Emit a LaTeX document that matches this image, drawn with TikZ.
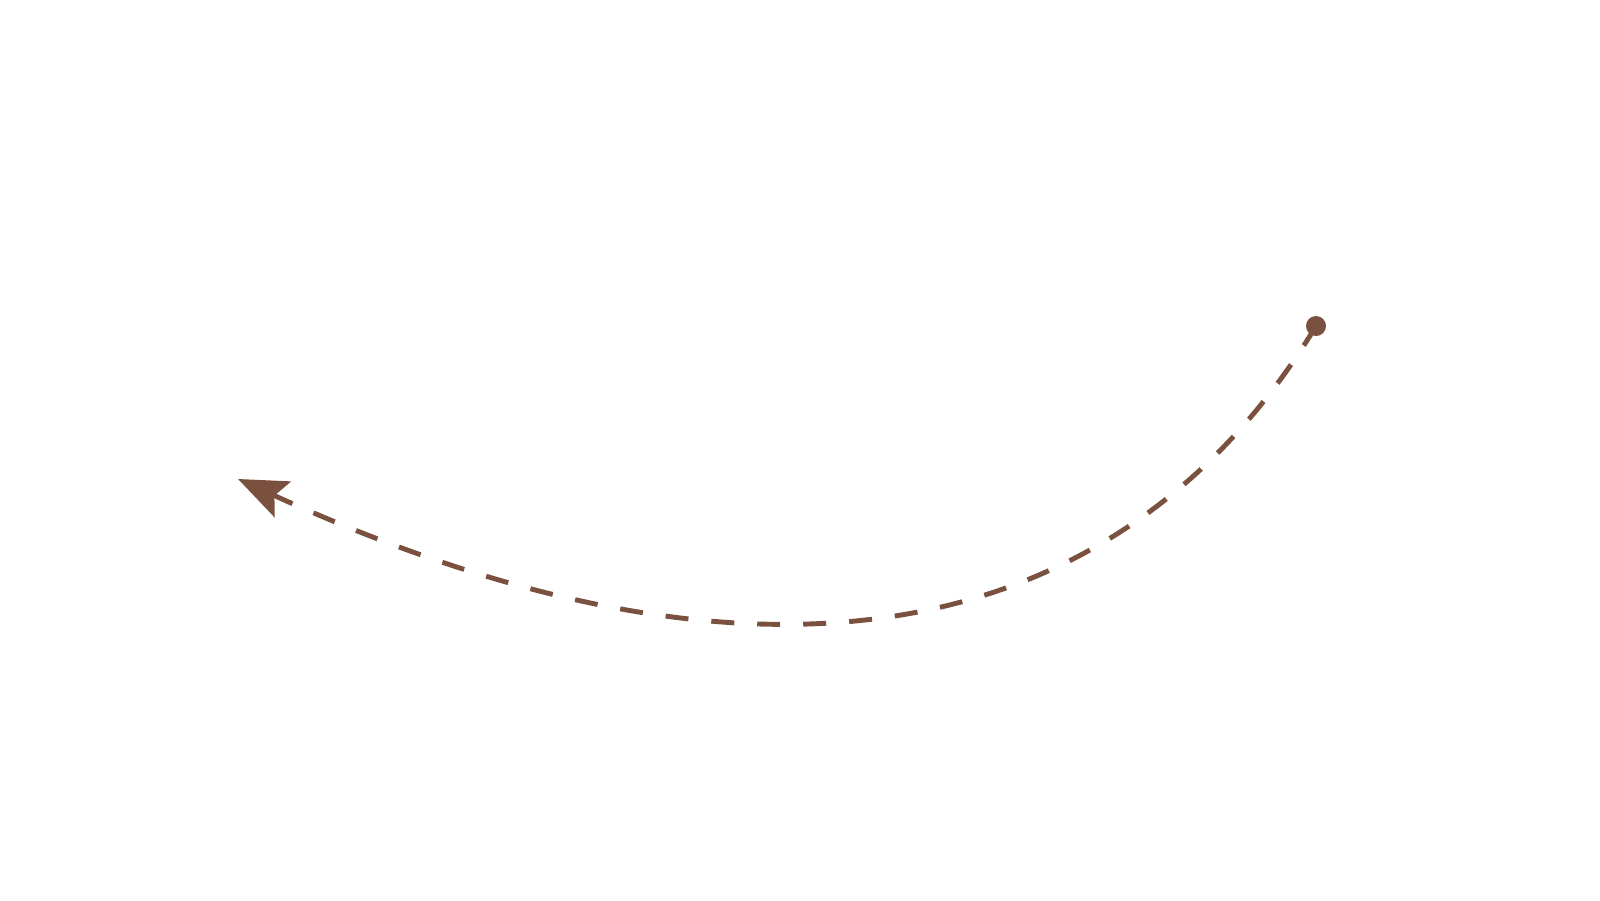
\documentclass[tikz,border=0pt]{standalone}
\usetikzlibrary{arrows.meta}
\definecolor{brownline}{RGB}{122,80,62}
\tikzset{
  dotnode/.style={circle, fill=brownline, inner sep=0pt, minimum size=20pt},
  curvedarrow/.style={draw=brownline, line width=4.9pt, dash pattern=on 23pt off 23pt,
    -{Stealth[length=49pt, width=39pt, inset=9pt]}}
}
\begin{document}
\begin{tikzpicture}[x=1pt, y=-1pt]
\useasboundingbox (0,0) rectangle (1600,900);
\coordinate (start) at (1316,326);
\coordinate (tip) at (238,479);
\path[curvedarrow] (start) .. controls (1159,586) and (842,754) .. (tip);
\node[dotnode] (dot) at (start) {};
\end{tikzpicture}
\end{document}
